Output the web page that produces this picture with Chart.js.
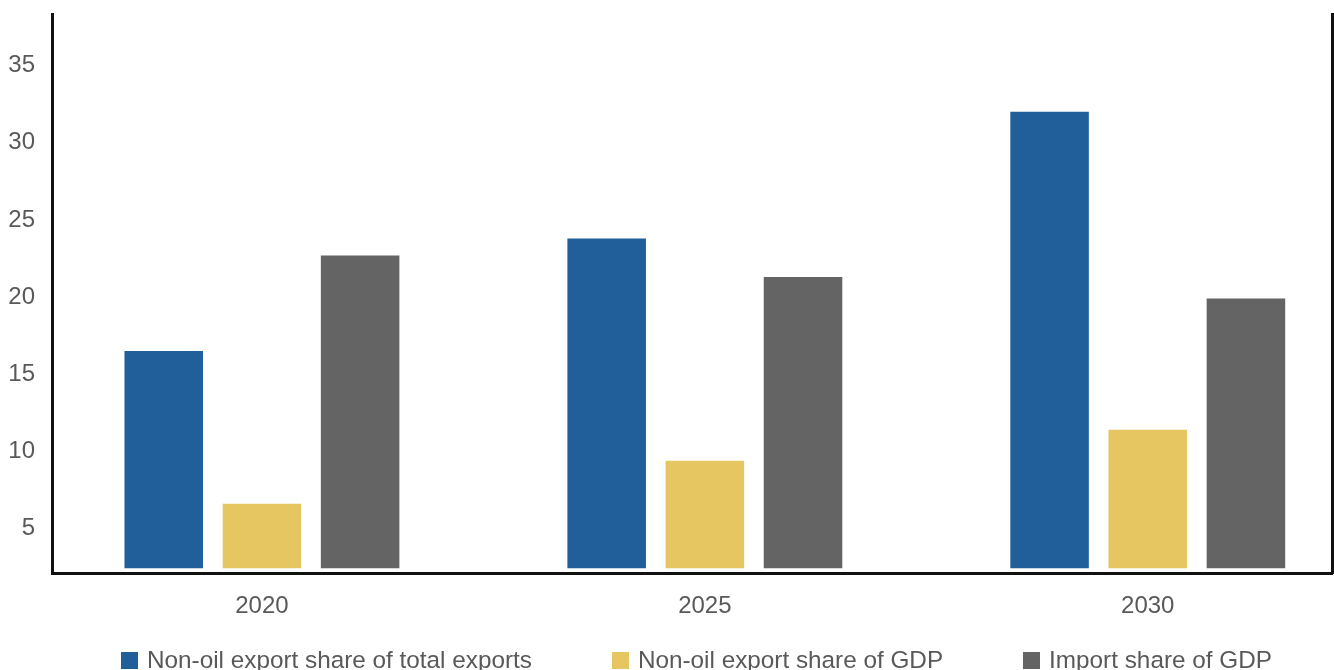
<!DOCTYPE html>
<html>
<head>
<meta charset="utf-8">
<script src="https://cdn.jsdelivr.net/npm/chart.js@4"></script>
<style>
  html, body { margin: 0; padding: 0; background: #fff; overflow: hidden; }
  #wrap { position: relative; width: 1334px; height: 670px; }
  #legend {
    position: absolute; left: 121px; top: 648px;
    display: flex; gap: 80px;
    font: 24.3px "Liberation Sans", Arial, sans-serif; line-height: 24px;
    color: #595959; white-space: nowrap;
  }
  .item { display: flex; align-items: center; }
  .box { width: 17px; height: 17px; margin-right: 9px; }
</style>
</head>
<body>
<div id="wrap">
  <canvas id="chart" width="1334" height="670"></canvas>
  <div id="legend"></div>
</div>
<script>
// valores
const years = ['2020', '2025', '2030'];
const nonOilShareExports = [16.5, 23.8, 32.0];
const nonOilShareGdp = [6.6, 9.4, 11.4];
const importShareGdp = [22.7, 21.3, 19.9];
const yTicks = [5, 10, 15, 20, 25, 30, 35];

const textColor = '#595959';
const font = { family: '"Liberation Sans", Arial, sans-serif', size: 24 };

function points(values) {
    return values.map((v, i) => ({ x: i, y: v }));
}

function makeDataset(label, values, color) {
    return {
        label: label,
        data: points(values),
        backgroundColor: color,
        barPercentage: 0.8,
        categoryPercentage: 0.665,
        base: 2.42
    };
}

const ctx = document.getElementById('chart').getContext('2d');
const chart = new Chart(ctx, {
    type: 'bar',
    data: {
        datasets: [
            makeDataset('Non-oil export share of total exports', nonOilShareExports, '#215F9A'),
            makeDataset('Non-oil export share of GDP', nonOilShareGdp, '#E6C660'),
            makeDataset('Import share of GDP', importShareGdp, '#636463')
        ]
    },
    options: {
        responsive: false,
        animation: false,
        devicePixelRatio: 1,
        layout: { autoPadding: false, padding: { top: 14, left: 0, right: 0, bottom: 0 } },
        plugins: {
            legend: { display: false },
            tooltip: { enabled: false }
        },
        scales: {
            x: {
                type: 'linear',
                offset: false,
                min: -0.474,
                max: 2.416,
                grid: { display: false, drawTicks: false, offset: false },
                border: { color: '#111', width: 3 },
                afterBuildTicks: s => { s.ticks = years.map((_, i) => ({ value: i })); },
                afterFit: s => { s.height = 97; },
                ticks: {
                    color: textColor,
                    font: font,
                    padding: 19,
                    callback: v => years[v]
                }
            },
            y: {
                min: 2.12,
                max: 38.34,
                grid: { display: false, drawTicks: false },
                border: { color: '#111', width: 3 },
                afterBuildTicks: s => { s.ticks = yTicks.map(v => ({ value: v })); },
                afterFit: s => {
                    s.width = 52;
                    s.paddingTop = 0;
                    s.paddingBottom = 0;
                },
                ticks: { color: textColor, font: font, padding: 17 }
            },
            y2: {
                position: 'right',
                grid: { display: false, drawTicks: false },
                border: { color: '#111', width: 3 },
                ticks: { display: false },
                afterFit: s => { s.width = 2; }
            }
        }
    }
});

// legenda em HTML
const legend = document.getElementById('legend');
chart.data.datasets.forEach(ds => {
    const item = document.createElement('div');
    item.className = 'item';
    const box = document.createElement('span');
    box.className = 'box';
    box.style.background = ds.backgroundColor;
    const text = document.createElement('span');
    text.textContent = ds.label;
    item.appendChild(box);
    item.appendChild(text);
    legend.appendChild(item);
});
</script>
</body>
</html>
